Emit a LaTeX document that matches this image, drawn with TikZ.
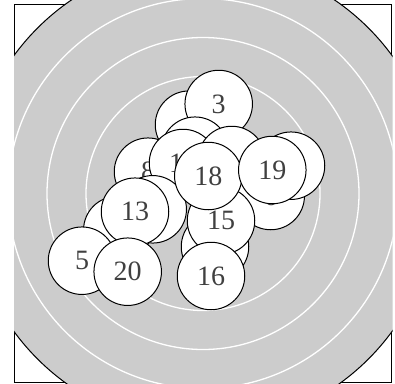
\documentclass[tikz,border=0pt]{standalone}
\usepackage{fontspec}
\setmainfont{Liberation Serif}
\begin{document}
\begin{tikzpicture}[x=1pt,y=-1pt,
  shot/.style={circle,draw=black,line width=1pt,fill=white,minimum size=67.5pt,inner sep=0pt,
    font=\fontsize{28}{28}\selectfont,text=black!75},
  ring/.style={draw=white,line width=1.3pt}]
\useasboundingbox (0,0) rectangle (395,383);
\coordinate (c) at (203,193.5);
\draw[line width=1pt] (14,4.7) rectangle (391.7,382);
\begin{scope}
\clip (14,0) rectangle (392.5,383);
\fill[black!20] (c) circle[radius=234];
\draw[ring] (c) circle[radius=117];
\draw[ring] (c) circle[radius=156];
\draw[ring] (c) circle[radius=195];
\draw[line width=1pt] (c) circle[radius=234];
\end{scope}
\node[shot] (hA) at (189,124.7) {};
\node[shot] (h3) at (218.7,104) {3};
\node[shot] (hB) at (195,150.7) {};
\node[shot] (h8) at (148,171.7) {8};
\node[shot] (h10) at (183,163) {10};
\node[shot] (hC) at (231.7,160) {};
\node[shot] (h6) at (270.7,196) {6};
\node[shot] (hR) at (291,165.7) {};
\node[shot] (h14) at (152.7,209.3) {14};
\node[shot] (hD) at (215,246.7) {};
\node[shot] (h15) at (221,220.7) {15};
\node[shot] (h18) at (208.3,176) {18};
\node[shot] (h19) at (272.3,170) {19};
\node[shot] (h16) at (211,276) {16};
\node[shot] (hE) at (117.3,230) {};
\node[shot] (h13) at (135,211.7) {13};
\node[shot] (h5) at (82,260.7) {5};
\node[shot] (h20) at (127.7,271.7) {20};
\end{tikzpicture}
\end{document}
